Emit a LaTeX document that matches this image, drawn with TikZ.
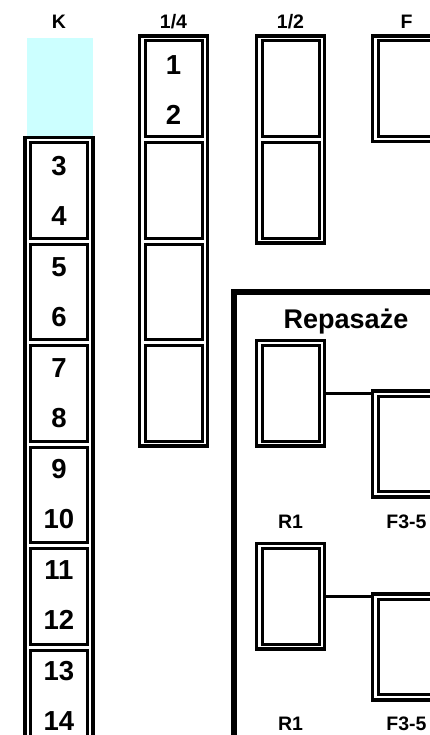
\documentclass[tikz,border=0pt]{standalone}
\usepackage{fontspec}
\setmainfont{Liberation Sans}
\definecolor{cyanfill}{HTML}{CCFFFF}
\begin{document}
\begin{tikzpicture}[x=1pt,y=-1pt,
  frame/.style={draw, line width=3.6pt, minimum width=68pt, inner sep=0pt, outer sep=0pt, anchor=north},
  cell/.style={draw, line width=3pt, minimum width=57pt, minimum height=95.5pt, inner sep=0pt, outer sep=0pt, anchor=north},
  hdr/.style={font=\fontsize{19.5}{19.5}\selectfont\bfseries, anchor=base, inner sep=0pt},
  num/.style={font=\fontsize{27.5}{27.5}\selectfont\bfseries, anchor=base, inner sep=0pt},
  title/.style={font=\fontsize{27}{27}\selectfont\bfseries, anchor=base, inner sep=0pt},
  link/.style={line width=2.5pt},
  group/.style={draw, line width=5.6pt, inner sep=0pt, outer sep=0pt, anchor=north west, minimum width=300pt, minimum height=520pt}
]
\useasboundingbox (0,0) rectangle (430,735);
\clip (0,0) rectangle (430,735);

% headers
\node[hdr] (hK) at (59,29) {K};
\node[hdr] (hQ) at (173.5,29) {1/4};
\node[hdr] (hH) at (290.5,29) {1/2};
\node[hdr] (hF) at (406.5,29) {F};

% K column
\fill[cyanfill] (26.5,38) rectangle (92.5,137.5);
\node[frame, minimum height=714.5pt] (fK) at (59,137.5) {};
\foreach \k in {1,...,6} \node[cell] (k\k) at (59,41+\k*101.5) {};
\foreach \n in {3,...,14} \node[num] (n\n) at (59,74.4+\n*50.5-50.5) {\n};

% 1/4 column
\node[frame, minimum height=410pt] (fQ) at (173.5,36) {};
\foreach \k in {0,...,3} \node[cell] (q\k) at (173.5,41+\k*101.5) {};
\foreach \n in {1,2} \node[num] (n\n) at (173.5,74.4+\n*50.5-50.5) {\n};

% 1/2 column
\node[frame, minimum height=207pt] (fH) at (290.5,36) {};
\foreach \k in {0,1} \node[cell] (h\k) at (290.5,41+\k*101.5) {};

% F column
\node[frame, minimum height=105.5pt] (fF) at (406.5,36) {};
\node[cell] (f0) at (406.5,41) {};

% Repasaze group
\node[group] (rep) at (234,292) {};
\node[title] (repT) at (346,328) {Repasaże};

\node[frame, minimum height=105.5pt] (r1a) at (290.5,340.5) {};
\node[cell] (r1ai) at (290.5,345.5) {};
\node[frame, minimum height=105.5pt] (f35a) at (406.5,391.25) {};
\node[cell] (f35ai) at (406.5,396.25) {};
\draw[link] (r1a.east) -- (r1a.east -| f35a.west);
\node[hdr] (lr1a) at (290.5,528) {R1};
\node[hdr] (lf35a) at (406.5,528) {F3-5};

\node[frame, minimum height=105.5pt] (r1b) at (290.5,543.5) {};
\node[cell] (r1bi) at (290.5,548.5) {};
\node[frame, minimum height=105.5pt] (f35b) at (406.5,594.25) {};
\node[cell] (f35bi) at (406.5,599.25) {};
\draw[link] (r1b.east) -- (r1b.east -| f35b.west);
\node[hdr] (lr1b) at (290.5,730) {R1};
\node[hdr] (lf35b) at (406.5,730) {F3-5};
\end{tikzpicture}
\end{document}
